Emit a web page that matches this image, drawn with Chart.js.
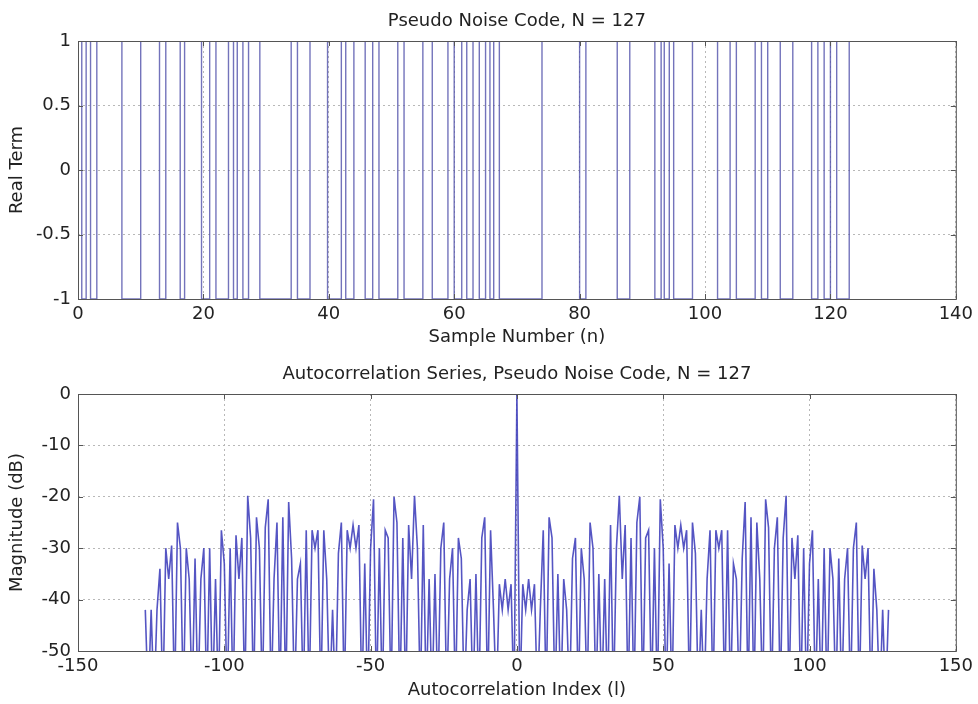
<!DOCTYPE html>
<html>
<head>
<meta charset="utf-8">
<script src="https://cdn.jsdelivr.net/npm/chart.js@4.4.0/dist/chart.umd.min.js"></script>
<style>
    html, body { margin: 0; padding: 0; background: #fff; }
    canvas { position: absolute; left: 0; }
    #codeChart { top: 0; }
    #acfChart { top: 352px; }
</style>
</head>
<body>
<canvas id="codeChart" width="978" height="352"></canvas>
<canvas id="acfChart" width="978" height="352"></canvas>
<script>
// Sample numbers where the +/-1 code flips
const codeFlips = [0.6, 1.3, 2, 3, 7, 10, 13, 14, 16.3, 17, 19.7, 21, 22, 24, 24.8, 25.4, 26.3, 27.2, 29,
    34, 35, 37, 39.8, 42, 42.7, 44, 45.8, 47, 48, 51, 52, 55, 56.5, 59, 60, 61.2, 62, 63, 64, 65, 65.7,
    66.3, 67.2, 74, 80, 81, 86, 88, 92, 93, 93.5, 94.3, 95, 98, 102, 104, 105, 108, 109, 110, 112, 114,
    117, 118, 119, 120, 121, 123];
const codeLength = 127;

// Autocorrelation magnitude (dB) for lags 0..127; the plot is symmetric about lag 0.
// -60 marks lags whose value falls below the -50 dB floor of the axis.
const acfDbPositive = [
    0, -60, -37, -42, -36, -42, -37, -60, -42, -26.5,
    -60, -24, -28, -60, -35, -60, -36, -42, -60, -32,
    -28, -60, -30, -36, -60, -25, -30, -60, -35, -60,
    -36, -60, -25.5, -60, -30, -19.8, -36, -25.5, -60, -28,
    -60, -25, -20, -60, -28, -26.5, -60, -30, -60, -20.5,
    -30, -60, -33, -60, -25.5, -30, -25.5, -30, -26.5, -60,
    -25, -31, -60, -42, -60, -36, -26.5, -60, -26.5, -30,
    -26.5, -60, -26.5, -60, -33, -36, -60, -32, -21, -60,
    -24, -60, -25, -36, -60, -20.5, -26, -60, -30, -24,
    -60, -28, -19.8, -60, -28, -36, -27.5, -60, -30, -60,
    -33, -26.5, -60, -36, -60, -30, -60, -30, -36, -60,
    -32, -60, -36, -30, -60, -30, -25, -60, -29.5, -36,
    -30, -60, -34, -42, -60, -42, -60, -42
];

const codeXTicks = [0, 20, 40, 60, 80, 100, 120, 140];
const codeYTicks = [-1, -0.5, 0, 0.5, 1];
const acfXTicks = [-150, -100, -50, 0, 50, 100, 150];
const acfYTicks = [-50, -40, -30, -20, -10, 0];

const FONT = { family: "'DejaVu Sans', sans-serif", size: 18 };
const INK = '#222';

// square wave from the flip positions
const codePts = [];
let level = 1;
codePts.push({ x: 0, y: level });
codeFlips.forEach(t => {
    codePts.push({ x: t, y: level });
    level = -level;
    codePts.push({ x: t, y: level });
});
codePts.push({ x: codeLength, y: level });

const acfPts = [];
for (let l = -(acfDbPositive.length - 1); l < acfDbPositive.length; l++) {
    acfPts.push({ x: l, y: acfDbPositive[Math.abs(l)] });
}

// title above the axes, box around them, MATLAB style inward ticks
const matlabFrame = {
    id: 'matlabFrame',
    afterDraw(chart, args, opts) {
        const { ctx, chartArea: a, scales } = chart;
        ctx.save();
        ctx.strokeStyle = '#555';
        ctx.lineWidth = 1;
        ctx.strokeRect(a.left + 0.5, a.top + 0.5, a.right - a.left, a.bottom - a.top);
        ctx.beginPath();
        opts.xTicks.forEach(v => {
            const px = Math.round(scales.x.getPixelForValue(v)) + 0.5;
            ctx.moveTo(px, a.bottom); ctx.lineTo(px, a.bottom - 5);
            ctx.moveTo(px, a.top); ctx.lineTo(px, a.top + 5);
        });
        opts.yTicks.forEach(v => {
            const py = Math.round(scales.y.getPixelForValue(v)) + 0.5;
            ctx.moveTo(a.left, py); ctx.lineTo(a.left + 5, py);
            ctx.moveTo(a.right, py); ctx.lineTo(a.right - 5, py);
        });
        ctx.stroke();
        ctx.fillStyle = INK;
        ctx.font = FONT.size + 'px ' + FONT.family;
        ctx.textAlign = 'center';
        ctx.textBaseline = 'middle';
        ctx.fillText(opts.text, (a.left + a.right) / 2, a.top - 20);
        ctx.restore();
    }
};

function axes(xMin, xMax, xStep, yMin, yMax, yStep, xTitle, yTitle, xTitlePad) {
    const grid = { color: '#b8b8b8', lineWidth: 1, drawTicks: false };
    return {
        x: {
            type: 'linear', min: xMin, max: xMax,
            ticks: { stepSize: xStep, color: INK, font: FONT, padding: 5, maxRotation: 0, callback: v => String(v) },
            grid: grid,
            border: { display: false, dash: [2, 3] },
            title: { display: true, text: xTitle, color: INK, font: FONT, padding: { top: 0, bottom: xTitlePad } },
            afterFit: s => { s.height = 53; }
        },
        y: {
            min: yMin, max: yMax,
            ticks: { stepSize: yStep, color: INK, font: FONT, padding: 7, callback: v => String(v) },
            grid: grid,
            border: { display: false, dash: [2, 3] },
            title: { display: true, text: yTitle, color: INK, font: FONT, padding: { top: 7, bottom: 0 } },
            afterFit: s => { s.width = 78; }
        }
    };
}

new Chart(document.getElementById('codeChart'), {
    type: 'line',
    data: {
        datasets: [{
            data: codePts,
            borderColor: 'rgba(80, 80, 170, 0.8)',
            borderWidth: 1.4,
            pointRadius: 0,
            tension: 0,
            clip: 0,
        }]
    },
    options: {
        responsive: false,
        animation: false,
        parsing: false,
        layout: { padding: { top: 41, right: 22, left: 0, bottom: 0 } },
        scales: axes(0, 140, 20, -1, 1, 0.5, 'Sample Number (n)', 'Real Term', 4),
        plugins: {
            legend: { display: false },
            tooltip: { enabled: false },
            matlabFrame: { text: 'Pseudo Noise Code, N = 127', xTicks: codeXTicks, yTicks: codeYTicks }
        }
    },
    plugins: [matlabFrame]
});

new Chart(document.getElementById('acfChart'), {
    type: 'line',
    data: {
        datasets: [{
            data: acfPts,
            borderColor: 'rgba(55, 55, 185, 0.85)',
            borderWidth: 1.6,
            pointRadius: 0,
            tension: 0,
            clip: 0,
        }]
    },
    options: {
        responsive: false,
        animation: false,
        parsing: false,
        layout: { padding: { top: 42, right: 22, left: 0, bottom: 0 } },
        scales: axes(-150, 150, 50, -50, 0, 10, 'Autocorrelation Index (l)', 'Magnitude (dB)', 3),
        plugins: {
            legend: { display: false },
            tooltip: { enabled: false },
            matlabFrame: { text: 'Autocorrelation Series, Pseudo Noise Code, N = 127', xTicks: acfXTicks, yTicks: acfYTicks }
        }
    },
    plugins: [matlabFrame]
});
</script>
</body>
</html>
